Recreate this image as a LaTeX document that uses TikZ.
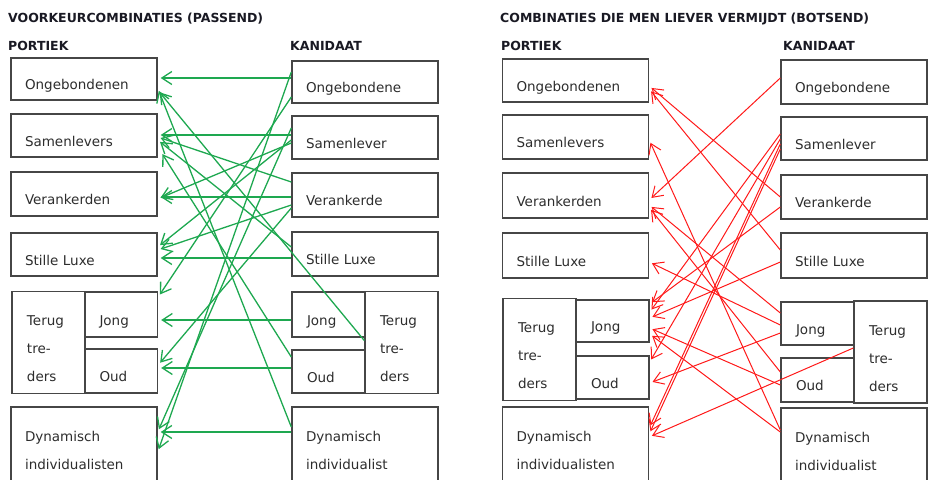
\documentclass[tikz,border=0pt]{standalone}
\usepackage{fontspec}
\setmainfont{DejaVu Sans}
\usepackage{tikz}
\usetikzlibrary{arrows.meta, calc, positioning}

\definecolor{boxgray}{RGB}{70,70,70}
\definecolor{textgray}{RGB}{45,45,45}
\definecolor{headnavy}{RGB}{25,25,35}
\definecolor{passgreen}{RGB}{30,168,80}
\definecolor{clashred}{RGB}{255,25,25}

\newcommand{\boxlines}[1]{\begin{tabular}[t]{@{}l@{}}#1\end{tabular}}

\begin{document}
\begin{tikzpicture}[
    x=1pt, y=-1pt,
    boxbase/.style={rectangle, draw=boxgray, line width=1.4pt, align=left, text=textgray, font=\fontsize{13.5}{28}\selectfont},
    wide/.style={boxbase, minimum width=146pt, text width=118pt, inner xsep=14pt},
    half/.style={boxbase, minimum width=73pt, text width=43pt, inner xsep=15pt},
    oneline/.style={text height=24pt, text depth=3pt},
    multiline/.style={text height=31pt},
    head/.style={anchor=base west, inner sep=0pt, text=headnavy, font=\bfseries\fontsize{12.5}{14}\selectfont},
    glink/.style={draw=passgreen, line width=1.3pt, shorten >=3pt, -{Straight Barb[length=10pt, width=13pt]}},
    rlink/.style={draw=clashred, line width=1pt, shorten >=3pt, -{Straight Barb[length=10pt, width=13pt]}}
]
    \useasboundingbox (0,0) rectangle (928,479);

    % Headings
    \node [head] (title1) at (8,22.5) {VOORKEURCOMBINATIES (PASSEND)};
    \node [head] (title2) at (500,22.5) {COMBINATIES DIE MEN LIEVER VERMIJDT (BOTSEND)};
    \node [head] (port1) at (8,50.5) {PORTIEK};
    \node [head] (kand1) at (290,50.5) {KANIDAAT};
    \node [head] (port2) at (501,50.5) {PORTIEK};
    \node [head] (kand2) at (783,50.5) {KANIDAAT};

    % Portiek (passend)
    \node [wide, oneline, minimum height=42pt] (pO) at (84,79) {Ongebondenen};
    \node [wide, oneline, minimum height=43pt] (pS) at (84,135.5) {Samenlevers};
    \node [wide, oneline, minimum height=44pt] (pV) at (84,194) {Verankerden};
    \node [wide, oneline, minimum height=43pt] (pL) at (84,254.5) {Stille Luxe};
    \node [half, multiline, minimum height=101pt] (pT) at (48.5,342.5) {\boxlines{Terug\\tre-\\ders}};
    \node [half, oneline, minimum height=45pt] (pJ) at (121,314.5) {Jong};
    \node [half, oneline, minimum height=44pt] (pOud) at (121,371) {Oud};
    \node [wide, multiline, minimum height=72pt] (pD) at (84,444) {\boxlines{Dynamisch\\individualisten}};

    % Kandidaat (passend)
    \node [wide, oneline, minimum height=42pt] (kO) at (365,82) {Ongebondene};
    \node [wide, oneline, minimum height=43pt] (kS) at (365,137.5) {Samenlever};
    \node [wide, oneline, minimum height=44pt] (kV) at (365,195) {Verankerde};
    \node [wide, oneline, minimum height=44pt] (kL) at (365,254) {Stille Luxe};
    \node [half, oneline, minimum height=45pt] (kJ) at (328.5,314.5) {Jong};
    \node [half, oneline, minimum height=43pt] (kOud) at (328.5,371.5) {Oud};
    \node [half, multiline, minimum height=101pt] (kT) at (401.5,342.5) {\boxlines{Terug\\tre-\\ders}};
    \node [wide, multiline, minimum height=72pt] (kD) at (365,444) {\boxlines{Dynamisch\\individualist}};

    % Portiek (botsend)
    \node [wide, oneline, minimum height=43pt] (p2O) at (575.5,80.5) {Ongebondenen};
    \node [wide, oneline, minimum height=44pt] (p2S) at (575.5,137) {Samenlevers};
    \node [wide, oneline, minimum height=45pt] (p2V) at (575.5,195.5) {Verankerden};
    \node [wide, oneline, minimum height=45pt] (p2L) at (575.5,255.5) {Stille Luxe};
    \node [half, multiline, minimum height=99pt] (p2T) at (539.5,349.5) {\boxlines{Terug\\tre-\\ders}};
    \node [half, oneline, minimum height=42pt] (p2J) at (612.5,321) {Jong};
    \node [half, oneline, minimum height=43pt] (p2Oud) at (612.5,377.5) {Oud};
    \node [wide, multiline, minimum height=72pt] (p2D) at (575.5,444) {\boxlines{Dynamisch\\individualisten}};

    % Kandidaat (botsend)
    \node [wide, oneline, minimum height=44pt] (k2O) at (854,82) {Ongebondene};
    \node [wide, oneline, minimum height=43pt] (k2S) at (854,138.5) {Samenlever};
    \node [wide, oneline, minimum height=44pt] (k2V) at (854,197) {Verankerde};
    \node [wide, oneline, minimum height=45pt] (k2L) at (854,255.5) {Stille Luxe};
    \node [half, oneline, minimum height=43pt] (k2J) at (817.5,323.5) {Jong};
    \node [half, oneline, minimum height=44pt] (k2Oud) at (817.5,380) {Oud};
    \node [half, multiline, minimum height=100pt] (k2T) at (890.5,352) {\boxlines{Terug\\tre-\\ders}};
    \node [wide, multiline, minimum height=70pt] (k2D) at (854,445) {\boxlines{Dynamisch\\individualist}};

    % Passend: same group
    \draw [glink] ($(kO.west)+(0,-4)$) -- ($(pO.east)+(0,-1)$);
    \draw [glink] ($(kS.west)+(0,-2.5)$) -- ($(pS.east)+(0,-0.5)$);
    \draw [glink] ($(kV.west)+(0,2)$) -- ($(pV.east)+(0,3)$);
    \draw [glink] ($(kL.west)+(0,4)$) -- ($(pL.east)+(0,3.5)$);
    \draw [glink] ($(kJ.west)+(0,5.5)$) -- ($(pJ.east)+(0,5.5)$);
    \draw [glink] ($(kOud.west)+(0,-3.5)$) -- ($(pOud.east)+(0,-3)$);
    \draw [glink] ($(kD.west)+(0,-12)$) -- ($(pD.east)+(0,-12)$);

    % Passend: other groups
    \draw [glink] ($(kD.west)+(0,-17)$) -- ($(pO.east)+(0,9)$);
    \draw [glink] ($(kT.west)+(0,-2)$) -- ($(pO.east)+(0,11)$);
    \draw [glink] ($(kV.west)+(0,-13)$) -- ($(pS.east)+(0,1.5)$);
    \draw [glink] ($(kL.west)+(0,-7)$) -- ($(pS.east)+(0,4.5)$);
    \draw [glink] ($(kOud.west)+(0,-14.5)$) -- ($(pS.east)+(3,16)$);
    \draw [glink] ($(kS.west)+(0,5.5)$) -- ($(pV.east)+(0,5)$);
    \draw [glink] ($(kO.west)+(0,15)$) -- ($(pJ.east)+(0,-17.5)$);
    \draw [glink] ($(kS.west)+(0,2.5)$) -- ($(pL.east)+(0,-7.5)$);
    \draw [glink] ($(kV.west)+(0,10)$) -- ($(pL.east)+(0,-4.5)$);
    \draw [glink] ($(kV.west)+(0,13)$) -- ($(pOud.east)+(0,-6)$);
    \draw [glink] ($(kS.west)+(0,-9.5)$) -- ($(pD.east)+(0,-12)$);
    \draw [glink] ($(kO.west)+(0,-10)$) -- ($(pD.east)+(0,8)$);

    % Botsend
    \draw [rlink] ($(k2O.west)+(0,-4)$) -- ($(p2V.east)+(0,4.5)$);
    \draw [rlink] (k2V.west) -- ($(p2O.east)+(0,5.5)$);
    \draw [rlink] ($(k2L.west)+(0,-5.5)$) -- ($(p2O.east)+(0,8.5)$);
    \draw [rlink] ($(k2D.west)+(0,-15)$) -- ($(p2S.east)+(0,3)$);
    \draw [rlink] ($(k2J.west)+(0,-10.5)$) -- ($(p2V.east)+(0,9.5)$);
    \draw [rlink] ($(k2Oud.west)+(0,-8)$) -- ($(p2V.east)+(0,12)$);
    \draw [rlink] ($(k2J.west)+(0,1.5)$) -- ($(p2L.east)+(0,6.5)$);
    \draw [rlink] ($(k2L.west)+(0,6.5)$) -- ($(p2J.east)+(0,-3)$);
    \draw [rlink] ($(k2V.west)+(0,10)$) -- ($(p2J.east)+(0,-17)$);
    \draw [rlink] ($(k2S.west)+(0,-4.5)$) -- ($(p2J.east)+(0,-9)$);
    \draw [rlink] ($(k2S.west)+(0,0.5)$) -- ($(p2Oud.east)+(0,-15.5)$);
    \draw [rlink] ($(k2S.west)+(0,5.5)$) -- ($(p2D.east)+(0,-16)$);
    \draw [rlink] ($(k2S.west)+(0,10.5)$) -- ($(p2D.east)+(0,-10)$);
    \draw [rlink] ($(k2J.west)+(0,9.5)$) -- ($(p2Oud.east)+(0,5.5)$);
    \draw [rlink] ($(k2Oud.west)+(0,5)$) -- ($(p2J.east)+(0,7)$);
    \draw [rlink] ($(k2D.west)+(0,-13)$) -- ($(p2J.east)+(0,13)$);
    \draw [rlink] ($(k2T.west)+(0,-4)$) -- ($(p2D.east)+(0,-7)$);

\end{tikzpicture}
\end{document}
